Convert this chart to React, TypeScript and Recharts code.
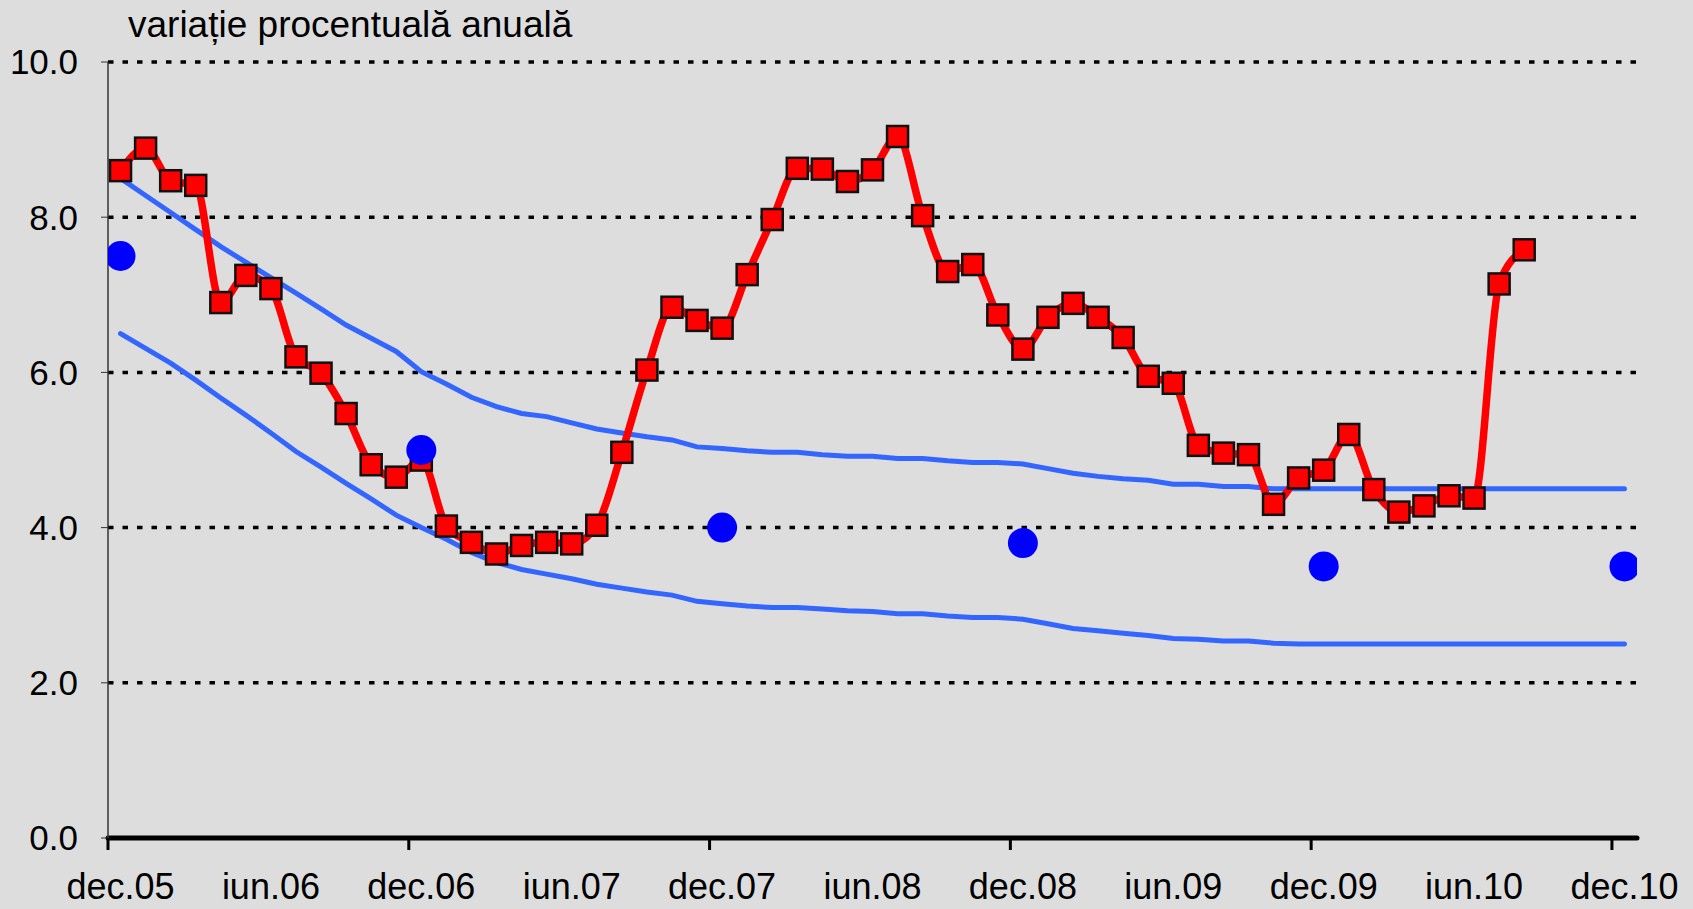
import { ComposedChart, Line, XAxis, YAxis, CartesianGrid } from 'recharts'

const months = [
  'dec.05',
  'ian.06', 'feb.06', 'mar.06', 'apr.06', 'mai.06', 'iun.06', 'iul.06', 'aug.06', 'sep.06', 'oct.06', 'nov.06', 'dec.06',
  'ian.07', 'feb.07', 'mar.07', 'apr.07', 'mai.07', 'iun.07', 'iul.07', 'aug.07', 'sep.07', 'oct.07', 'nov.07', 'dec.07',
  'ian.08', 'feb.08', 'mar.08', 'apr.08', 'mai.08', 'iun.08', 'iul.08', 'aug.08', 'sep.08', 'oct.08', 'nov.08', 'dec.08',
  'ian.09', 'feb.09', 'mar.09', 'apr.09', 'mai.09', 'iun.09', 'iul.09', 'aug.09', 'sep.09', 'oct.09', 'nov.09', 'dec.09',
  'ian.10', 'feb.10', 'mar.10', 'apr.10', 'mai.10', 'iun.10', 'iul.10', 'aug.10', 'sep.10', 'oct.10', 'nov.10', 'dec.10',
]

// inflatia anuala (dec.05 - aug.10)
const cpi = [
  8.6, 8.89, 8.47, 8.41, 6.9, 7.25, 7.08, 6.2, 5.99, 5.47, 4.81, 4.65, 4.87,
  4.02, 3.81, 3.66, 3.77, 3.81, 3.79, 4.03, 4.97, 6.03, 6.84, 6.67, 6.57,
  7.26, 7.97, 8.63, 8.62, 8.46, 8.61, 9.04, 8.02, 7.3, 7.39, 6.74, 6.3,
  6.71, 6.89, 6.71, 6.45, 5.95, 5.86, 5.06, 4.96, 4.94, 4.3, 4.64, 4.74,
  5.2, 4.49, 4.2, 4.28, 4.41, 4.38, 7.14, 7.58,
]

const upperBand = [
  8.5, 8.28, 8.06, 7.84, 7.62, 7.42, 7.22, 7.02, 6.82, 6.61, 6.44, 6.27, 6.01,
  5.85, 5.68, 5.56, 5.47, 5.43, 5.35, 5.27, 5.22, 5.17, 5.13, 5.04, 5.02,
  4.99, 4.97, 4.97, 4.94, 4.92, 4.92, 4.89, 4.89, 4.86, 4.84, 4.84, 4.82,
  4.76, 4.7, 4.66, 4.63, 4.61, 4.56, 4.56, 4.53, 4.53, 4.5, 4.5, 4.5,
  4.5, 4.5, 4.5, 4.5, 4.5, 4.5, 4.5, 4.5, 4.5, 4.5, 4.5, 4.5,
]

const lowerBand = [
  6.5, 6.31, 6.12, 5.9, 5.67, 5.45, 5.22, 4.98, 4.78, 4.57, 4.37, 4.16, 4.0,
  3.85, 3.68, 3.55, 3.46, 3.4, 3.34, 3.27, 3.22, 3.17, 3.13, 3.05, 3.02,
  2.99, 2.97, 2.97, 2.95, 2.93, 2.92, 2.89, 2.89, 2.86, 2.84, 2.84, 2.82,
  2.76, 2.7, 2.67, 2.64, 2.61, 2.57, 2.56, 2.54, 2.54, 2.51, 2.5, 2.5,
  2.5, 2.5, 2.5, 2.5, 2.5, 2.5, 2.5, 2.5, 2.5, 2.5, 2.5, 2.5,
]

const targetMonths = ['dec.05', 'dec.06', 'dec.07', 'dec.08', 'dec.09', 'dec.10']
const targetValues = [7.5, 5.0, 4.0, 3.8, 3.5, 3.5]

const xLabels = ['dec.05', 'iun.06', 'dec.06', 'iun.07', 'dec.07', 'iun.08', 'dec.08', 'iun.09', 'dec.09', 'iun.10', 'dec.10']
const yTicks = [0, 2, 4, 6, 8, 10]

const FONT = '"Liberation Sans", Arial, sans-serif'

const data = months.map((m, i) => {
  const t = targetMonths.indexOf(m)
  return {
    i,
    month: m,
    cpi: i < cpi.length ? cpi[i] : null,
    up: upperBand[i],
    low: lowerBand[i],
    target: t >= 0 ? targetValues[t] : null,
  }
})

// labels sit in the middle of the month, tick marks on the december boundaries
const labelTicks = xLabels.map((l) => months.indexOf(l))
const markTicks = targetMonths.map((m) => months.indexOf(m) - 0.5)
const xTicks = [...labelTicks, ...markTicks].sort((a, b) => a - b)

function XTick(props: any) {
  const { x, y, payload } = props
  const v = payload.value
  if (!Number.isInteger(v)) {
    return <line x1={x} x2={x} y1={y} y2={y + 12} stroke="#000" strokeWidth={3} />
  }
  return (
    <text x={x} y={y + 61} textAnchor="middle" fontSize={36} fontFamily={FONT} fill="#000">
      {months[v]}
    </text>
  )
}

function Square(props: any) {
  const { cx, cy } = props
  if (cx == null || cy == null) return null
  return <rect x={cx - 10.5} y={cy - 10.5} width={21} height={21} fill="#ff0000" stroke="#111" strokeWidth={2.5} />
}

export default function App() {
  return (
    <div style={{ position: 'fixed', left: 0, top: 0, width: 1693, height: 909, background: '#dddddd', overflow: 'hidden' }}>
      <div
        style={{
          position: 'absolute',
          left: 128,
          top: 6,
          fontFamily: FONT,
          fontSize: 37,
          lineHeight: '37px',
          color: '#000',
          whiteSpace: 'nowrap',
        }}
      >
        variație procentuală anuală
      </div>
      <ComposedChart width={1693} height={909} data={data} margin={{ top: 62, right: 56, bottom: 0, left: 0 }}>
        <CartesianGrid vertical={false} stroke="#000" strokeWidth={3.5} strokeDasharray="5.5 9" />
        <XAxis
          dataKey="i"
          type="number"
          domain={[-0.5, 60.5]}
          allowDataOverflow
          ticks={xTicks}
          interval={0}
          tick={<XTick />}
          tickLine={false}
          tickSize={0}
          tickMargin={0}
          height={71}
          axisLine={{ stroke: '#000', strokeWidth: 5, strokeLinecap: 'round' }}
        />
        <YAxis
          domain={[0, 10]}
          ticks={yTicks}
          width={108}
          tickFormatter={(v: number) => v.toFixed(1)}
          tick={{ fontSize: 35, fill: '#000', fontFamily: FONT }}
          tickSize={7}
          tickMargin={23}
          tickLine={{ stroke: '#333' }}
          axisLine={{ stroke: '#333', strokeWidth: 1.5 }}
        />
        <Line dataKey="up" type="linear" stroke="#3366ff" strokeWidth={5} strokeLinecap="round" dot={false} isAnimationActive={false} />
        <Line dataKey="low" type="linear" stroke="#3366ff" strokeWidth={5} strokeLinecap="round" dot={false} isAnimationActive={false} />
        <Line dataKey="cpi" type="monotone" stroke="#ff0000" strokeWidth={7.5} dot={<Square />} activeDot={false} isAnimationActive={false} />
        <Line dataKey="target" stroke="none" dot={{ r: 15, fill: '#0000ff', stroke: 'none' }} activeDot={false} isAnimationActive={false} />
      </ComposedChart>
    </div>
  )
}
